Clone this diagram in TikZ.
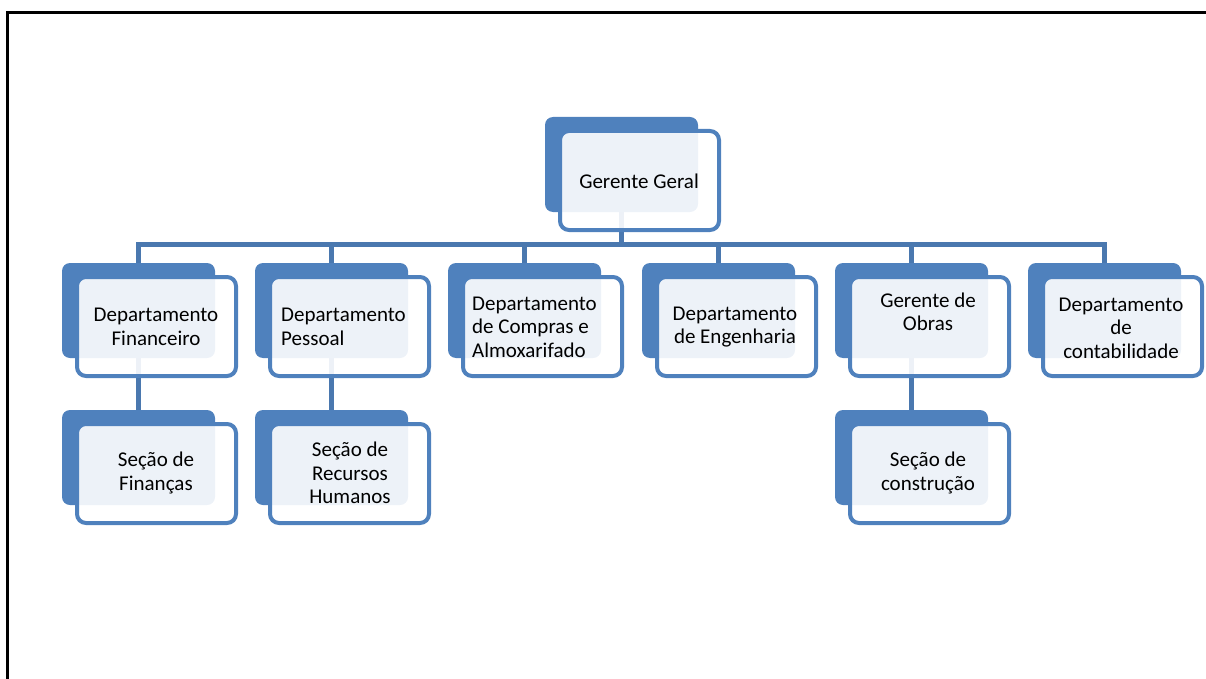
\documentclass[tikz,border=0pt]{standalone}
\usepackage{fontspec}
\setmainfont{Carlito}
\definecolor{accent}{HTML}{4F81BD}
\definecolor{linkblue}{HTML}{4A78AF}
\begin{document}
\begin{tikzpicture}[x=1pt,y=-1pt,
  backbox/.style={rectangle, rounded corners=8pt, fill=accent, draw=none,
    minimum width=153pt, minimum height=95pt, inner sep=0pt, outer sep=0pt},
  frontbox/.style={rectangle, rounded corners=9pt, draw=accent, line width=4pt,
    fill=white, fill opacity=0.9, minimum width=159pt, minimum height=99pt,
    inner sep=0pt, outer sep=0pt},
  label/.style={inner sep=0pt, font=\fontsize{21}{23.5}\selectfont, text=black},
  link/.style={draw=linkblue, line width=5pt},
  frame/.style={draw=black, line width=3pt}]

% page area and the open frame on top and left
\useasboundingbox (0,0) rectangle (1206,679);
\coordinate (fa) at (7,679);
\coordinate (fb) at (7,13);
\coordinate (fc) at (1206,13);
\draw[frame] (fa) -- (fb) -- (fc);

% back plates (bx+76.5, by+47.5)
\node[backbox] (gB)  at (621.5,164.5) {};
\node[backbox] (c1B) at (138.5,310.5) {};
\node[backbox] (c2B) at (331.5,310.5) {};
\node[backbox] (c3B) at (524.5,310.5) {};
\node[backbox] (c4B) at (718.5,310.5) {};
\node[backbox] (c5B) at (911.5,310.5) {};
\node[backbox] (c6B) at (1104.5,310.5) {};
\node[backbox] (s1B) at (138.5,457.5) {};
\node[backbox] (s2B) at (331.5,457.5) {};
\node[backbox] (s5B) at (911.5,457.5) {};

% connectors, drawn under the front cards
\coordinate (bar) at (0,244);
\foreach \c in {c1B,c2B,c3B,c4B,c5B,c6B}{
  \draw[link] (gB.south) -- (gB.south |- bar) -| (\c.north);
}
\draw[link] (c1B.south) -- (s1B.north);
\draw[link] (c2B.south) -- (s2B.north);
\draw[link] (c5B.south) -- (s5B.north);

% front cards (bx+94.5, by+63.5)
\node[frontbox] (g)  at (639.5,180.5) {};
\node[frontbox] (c1) at (156.5,326.5) {};
\node[frontbox] (c2) at (349.5,326.5) {};
\node[frontbox] (c3) at (542.5,326.5) {};
\node[frontbox] (c4) at (736.5,326.5) {};
\node[frontbox] (c5) at (929.5,326.5) {};
\node[frontbox] (c6) at (1122.5,326.5) {};
\node[frontbox] (s1) at (156.5,473.5) {};
\node[frontbox] (s2) at (349.5,473.5) {};
\node[frontbox] (s5) at (929.5,473.5) {};

% texts
\node[label] (tg)  at (639,181) {Gerente Geral};
\node[label, align=center] (t1) at (156,327) {Departamento\\Financeiro};
\node[label, align=left, anchor=west] (t2) at (281,327) {Departamento\\Pessoal};
\node[label, align=left, anchor=west] (t3) at (472,327) {Departamento\\de Compras e\\Almoxarifado};
\node[label, align=center] (t4) at (735,327) {Departamento\\de Engenharia};
\node[label, align=center] (t5) at (928,312) {Gerente de\\Obras};
\node[label, align=center] (t6) at (1121,328) {Departamento\\de\\contabilidade};
\node[label, align=center] (u1) at (156,473) {Seção de\\Finanças};
\node[label, align=center] (u2) at (350,473) {Seção de\\Recursos\\Humanos};
\node[label, align=center] (u5) at (928,473) {Seção de\\construção};
\end{tikzpicture}
\end{document}
